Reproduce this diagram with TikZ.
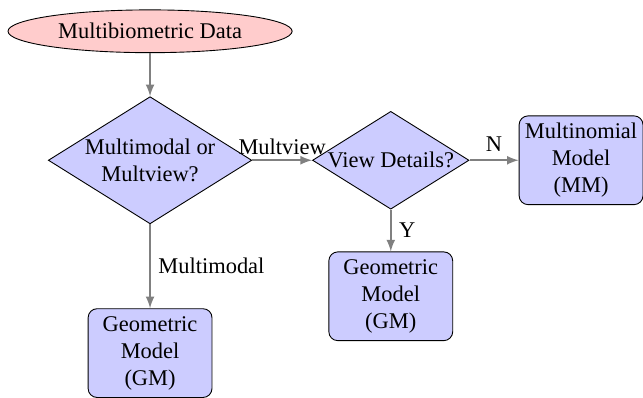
\documentclass[tikz,border=0pt]{standalone}
\usepackage{fontspec}
\setmainfont{Liberation Serif}
\usetikzlibrary{shapes.geometric,arrows}

\begin{document}
\begin{tikzpicture}[
    decision/.style={diamond, draw, fill=blue!20, align=center, shape aspect=1.6, inner sep=0.4pt},
    block/.style={rectangle, draw, fill=blue!20, rounded corners, align=center, text width=1.8cm, minimum width=1.94cm, minimum height=1.39cm, inner sep=1pt},
    cloud/.style={ellipse, draw, fill=red!20, minimum width=4.45cm, minimum height=0.67cm, inner sep=0pt},
    line/.style={draw, gray, thick, -latex}]
    \useasboundingbox (0,0) rectangle (10.07,-6.22);
    \node[cloud] (data) at (2.35,-0.49) {Multibiometric Data};
    \node[decision] (mode) at (2.35,-2.51) {Multimodal or\\Multview?};
    \node[decision] (view) at (6.12,-2.51) {View Details?};
    \node[block] (mm) at (9.10,-2.51) {Multinomial\\Model\\(MM)};
    \node[block] (gmview) at (6.12,-4.64) {Geometric\\Model\\(GM)};
    \node[block] (gmmodal) at (2.35,-5.53) {Geometric\\Model\\(GM)};
    \path[line] (data) -- (mode);
    \path[line] (mode) -- node[above, text=black, inner sep=2pt] {Multview} (view);
    \path[line] (view) -- node[above, text=black] {N} (mm);
    \path[line] (view) -- node[right, text=black] {Y} (gmview);
    \path[line] (mode) -- node[right, text=black] {Multimodal} (gmmodal);
\end{tikzpicture}
\end{document}
